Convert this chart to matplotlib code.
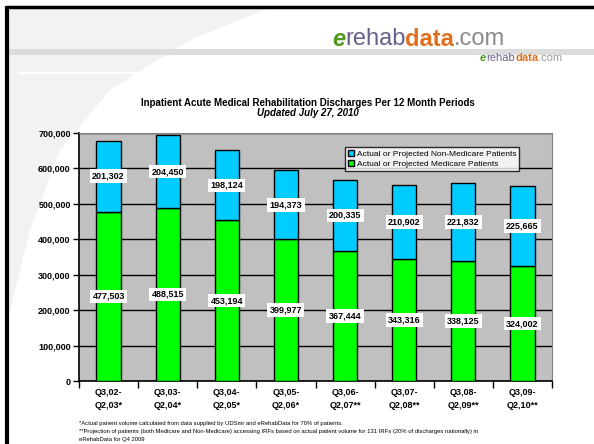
import numpy as np
import matplotlib
matplotlib.use("Agg")
import matplotlib.pyplot as plt
from matplotlib.patches import Polygon, Rectangle

# Data
periods = ["Q3,02-\nQ2,03*", "Q3,03-\nQ2,04*", "Q3,04-\nQ2,05*", "Q3,05-\nQ2,06*",
           "Q3,06-\nQ2,07**", "Q3,07-\nQ2,08**", "Q3,08-\nQ2,09**", "Q3,09-\nQ2,10**"]
medicare = [477503, 488515, 453194, 399977, 367444, 343316, 338125, 324002]
non_medicare = [201302, 204450, 198124, 194373, 200335, 210902, 221832, 225665]
y_ticks = [0, 100000, 200000, 300000, 400000, 500000, 600000, 700000]

title = "Inpatient Acute Medical Rehabilitation Discharges Per 12 Month Periods"
subtitle = "Updated July 27, 2010"
footnotes = [
    "*Actual patient volume calculated from data supplied by UDSmr and eRehabData for 70% of patients.",
    "**Projection of patients (both Medicare and Non-Medicare) accessing IRFs based on actual patient volume for 131 IRFs (20% of discharges nationally) in",
    "eRehabData for Q4 2009",
]

W, H = 594, 444
plt.rcParams['font.family'] = ['Liberation Sans', 'DejaVu Sans']

fig = plt.figure(figsize=(W / 100, H / 100), dpi=100)
fig.patch.set_facecolor("white")


def fx(x):
    return x / W


def fy(y):
    return 1 - y / H


# background decoration: frame, watermark swoosh, header lines
bg = fig.add_axes([0, 0, 1, 1], zorder=-5)
bg.set_xlim(0, W)
bg.set_ylim(H, 0)
bg.axis("off")
bg.add_patch(Polygon([(8, 8), (270, 8), (190, 40), (110, 90), (60, 150), (30, 230), (8, 320)],
                     closed=True, facecolor="#f2f2f2", edgecolor="none"))
bg.add_patch(Rectangle((8, 49), W - 8, 6, facecolor="#dcdcdc", edgecolor="none"))
bg.plot([19, 498], [73, 73], color="white", lw=1.5)
bg.plot([6, W], [7, 7], color="black", lw=2.5, solid_capstyle="butt")
bg.plot([7, 7], [6, H], color="black", lw=3, solid_capstyle="butt")

# logo text pieces
renderer = fig.canvas.get_renderer()


def logo(x, y, size, pieces):
    for txt, col, weight, style in pieces:
        t = fig.text(fx(x), fy(y), txt, fontsize=size, color=col, fontweight=weight,
                     fontstyle=style, va="center", ha="left")
        bb = t.get_window_extent(renderer)
        x += bb.width


logo(332, 39, 17, [("e", "#4f9a1e", "bold", "italic"), ("rehab", "#6b5f8c", "normal", "normal"),
                   ("data", "#e0701e", "bold", "normal"), (".com", "#8a8a8a", "normal", "normal")])
logo(480, 58, 8, [("e", "#4f9a1e", "bold", "italic"), ("rehab", "#6b5f8c", "normal", "normal"),
                  ("data", "#e0701e", "bold", "normal"), (".com", "#9a9a9a", "normal", "normal")])

# main chart
ax = fig.add_axes([fx(79), fy(381), (552 - 79) / W, (381 - 133) / H])
ax.set_facecolor("#c0c0c0")
x = np.arange(len(periods))
bw = 0.41
ax.bar(x, medicare, bw, color="#00ff00", edgecolor="black", lw=1,
       label="Actual or Projected Medicare Patients", zorder=3)
ax.bar(x, non_medicare, bw, bottom=medicare, color="#00ccff", edgecolor="black", lw=1,
       label="Actual or Projected Non-Medicare Patients", zorder=3)

box = dict(boxstyle="square,pad=0.25", facecolor="white", edgecolor="none")
for i in range(len(periods)):
    ax.text(x[i], medicare[i] / 2, f"{medicare[i]:,}", ha="center", va="center",
            fontsize=6.5, fontweight="bold", bbox=box, zorder=5)
    ax.text(x[i], medicare[i] + non_medicare[i] / 2, f"{non_medicare[i]:,}", ha="center",
            va="center", fontsize=6.5, fontweight="bold", bbox=box, zorder=5)

ax.set_xlim(-0.5, len(periods) - 0.5)
ax.set_ylim(0, 700000)
ax.set_yticks(y_ticks)
ax.set_yticklabels([f"{v:,}" for v in y_ticks], fontsize=6.5, fontweight="bold")
ax.yaxis.grid(True, color="black", lw=1, zorder=1)
ax.set_xticks(x)
ax.set_xticklabels(periods, fontsize=6.5, fontweight="bold", linespacing=1.6)
ax.set_xticks(np.arange(-0.5, len(periods)), minor=True)
ax.tick_params(axis="x", which="major", length=0, pad=5)
ax.tick_params(axis="x", which="minor", length=5, direction="out", width=1)
ax.tick_params(axis="y", length=4, width=1, pad=2)
for side in ["top", "right"]:
    ax.spines[side].set_color("#808080")
for side in ["left", "bottom"]:
    ax.spines[side].set_color("black")
    ax.spines[side].set_linewidth(1.2)

handles, labels = ax.get_legend_handles_labels()
leg = ax.legend(handles[::-1], labels[::-1], loc="upper right", bbox_to_anchor=(0.94, 0.96),
                fontsize=6, frameon=True, fancybox=False, handlelength=0.7, handleheight=0.7,
                handletextpad=0.3, borderpad=0.4, labelspacing=0.2, edgecolor="black")
leg.get_frame().set_linewidth(1)
leg.set_zorder(6)

fig.text(fx(308), fy(103), title, ha="center", va="center", fontsize=7, fontweight="bold")
fig.text(fx(308), fy(113), subtitle, ha="center", va="center", fontsize=7,
         fontweight="bold", fontstyle="italic")

for i, note in enumerate(footnotes):
    fig.text(fx(79), fy(423 + i * 8), note, ha="left", va="center", fontsize=4.2)

fig.savefig("out.png", dpi=100)
